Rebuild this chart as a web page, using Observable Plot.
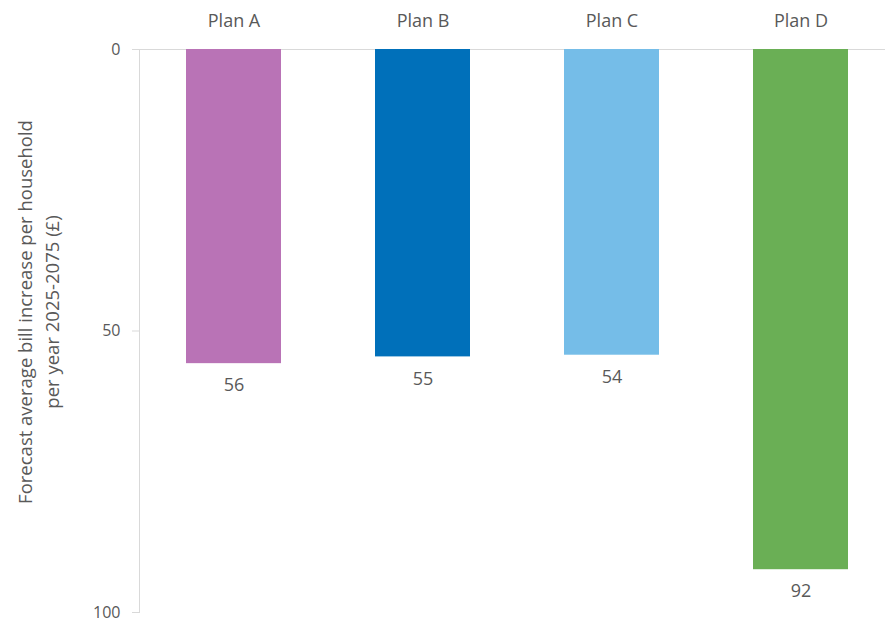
<!DOCTYPE html>
<html>
<head>
<meta charset="utf-8">
<script src="https://cdn.jsdelivr.net/npm/d3@7"></script>
<script src="https://cdn.jsdelivr.net/npm/@observablehq/plot@0.6"></script>
<style>
  html, body { margin: 0; padding: 0; background: #ffffff; }
  #chart svg { display: block; }
</style>
</head>
<body>
<div id="chart"></div>
<script>
const plans = ["Plan A", "Plan B", "Plan C", "Plan D"];
const values = [55.8, 54.6, 54.3, 92.4];
const colors = ["#B973B6", "#0070BA", "#75BDE8", "#6AAF55"];
const yTicks = [0, 50, 100];
const yLabel = "Forecast average bill increase per household\nper year 2025-2075 (£)";

const data = plans.map((p, i) => ({plan: p, value: values[i]}));
const fmt = d3.format(".0f");
const gray = "#595959";
const lineGray = "#d9d9d9";

const chart = Plot.plot({
  width: 885,
  height: 620,
  marginLeft: 139,
  marginTop: 49,
  marginBottom: 8,
  marginRight: -10,
  style: {fontFamily: "'Open Sans', sans-serif", color: gray, background: "#ffffff"},
  x: {domain: plans, paddingInner: 0.5, paddingOuter: 0.25, axis: null},
  y: {domain: [0, 100], reverse: true, axis: null},
  color: {domain: plans, range: colors},
  marks: [
    Plot.frame({anchor: "left", stroke: lineGray}),
    Plot.ruleY([0], {stroke: lineGray}),
    Plot.barY(data, {x: "plan", y: "value", fill: "plan"}),
    Plot.axisX({anchor: "top", tickSize: 0, tickPadding: 23, fontSize: 18, fill: gray, label: null}),
    Plot.axisY({ticks: yTicks, tickSize: 7, tickPadding: 12, stroke: lineGray, fontSize: 16, fill: gray, label: null}),
    Plot.text(data, {x: "plan", y: "value", text: d => fmt(d.value), dy: 22, fontSize: 18, fill: gray}),
    Plot.text([yLabel], {frameAnchor: "left", textAnchor: "middle", rotate: -90, dx: -103, dy: -19, lineHeight: 1.5, fontSize: 18.5, fill: gray})
  ]
});
document.getElementById("chart").appendChild(chart);
</script>
</body>
</html>
